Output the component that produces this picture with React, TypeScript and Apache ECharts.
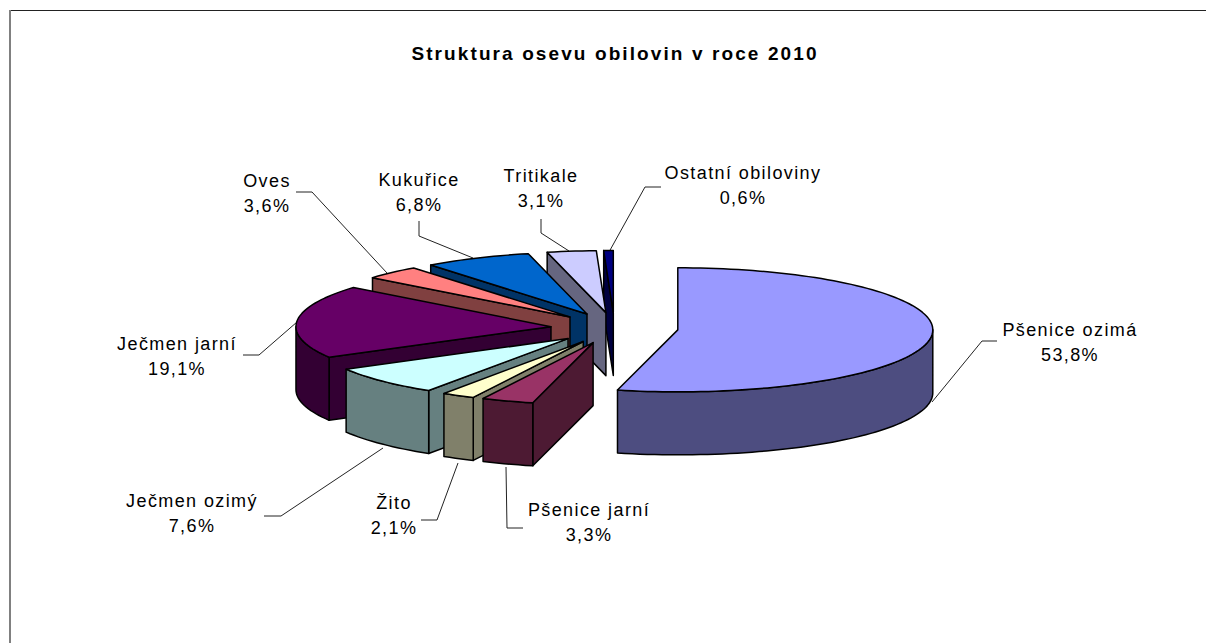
import React, { useEffect, useRef } from "react";
import * as echarts from "echarts";

const title = "Struktura osevu obilovin v roce 2010";
const categories = ["Pšenice ozimá", "Pšenice jarní", "Žito", "Ječmen ozimý", "Ječmen jarní", "Oves", "Kukuřice", "Tritikale", "Ostatní obiloviny"];
const shares = [53.8, 3.3, 2.1, 7.6, 19.1, 3.6, 6.8, 3.1, 0.6];
const topColors = ["#9999FF", "#993366", "#FFFFCC", "#CCFFFF", "#660066", "#FF8080", "#0066CC", "#CCCCFF", "#000080"];
const wallColors = ["#4D4D80", "#4D1A33", "#80806A", "#668080", "#330033", "#804040", "#003366", "#666680", "#000040"];

const labelCenters = [[1070, 342], [589, 522], [394, 515], [192, 513], [177, 356], [267, 193], [419, 192], [541, 188], [743, 185]];
const leaders = [
  [[997, 341], [982, 341], [932, 402]],
  [[523, 528], [507, 528], [506, 467]],
  [[421, 520], [437, 520], [458, 463]],
  [[264, 516], [281, 516], [383, 448]],
  [[243, 355], [259, 355], [297, 322]],
  [[296, 192], [312, 192], [387, 273]],
  [[419, 221], [419, 236], [473, 258]],
  [[541, 219], [541, 233], [569, 251]],
  [[661, 187], [645, 187], [609, 252]],
];

const CX = 614.5, CY = 328, RX = 255, RY = 62, DEPTH = 63, EXPLODE = 0.25;
const total = shares.reduce((a, b) => a + b, 0);
const FONT = "Liberation Sans, Arial, sans-serif";

const fmt = (v: number) => v.toFixed(1).replace(".", ",") + "%";

function renderItem(_params: any, api: any) {
  const a0 = (api.value(1) / total) * Math.PI * 2;
  const a1 = (api.value(2) / total) * Math.PI * 2;
  const idx = api.value(3);
  const mid = (a0 + a1) / 2;
  const cx = CX + EXPLODE * RX * Math.sin(mid);
  const cy = CY - EXPLODE * RY * Math.cos(mid);
  const pt = (a: number, drop = 0) => [cx + RX * Math.sin(a), cy - RY * Math.cos(a) + drop];
  const arc = (s: number, e: number, drop = 0) => {
    const n = Math.max(2, Math.ceil((e - s) / 0.03));
    const out: number[][] = [];
    for (let i = 0; i <= n; i++) out.push(pt(s + ((e - s) * i) / n, drop));
    return out;
  };
  const edge = { stroke: "#000", lineWidth: 1.5, lineJoin: "round" };
  const poly = (points: number[][], fill: string) => ({ type: "polygon", shape: { points }, style: { fill, ...edge }, silent: true });
  const children: any[] = [];
  const wall = wallColors[idx];
  // Only radial walls that face the viewer are drawn.
  if (a0 > Math.PI) children.push(poly([[cx, cy], pt(a0), pt(a0, DEPTH), [cx, cy + DEPTH]], wall));
  if (a1 < Math.PI) children.push(poly([[cx, cy], pt(a1), pt(a1, DEPTH), [cx, cy + DEPTH]], wall));
  const fs = Math.max(a0, Math.PI / 2), fe = Math.min(a1, (Math.PI * 3) / 2);
  if (fe > fs) children.push(poly([...arc(fs, fe), ...arc(fs, fe, DEPTH).reverse()], wall));
  children.push(poly([[cx, cy], ...arc(a0, a1)], topColors[idx]));
  return { type: "group", children };
}

let cum = 0;
const sliceRows = shares.map((v, i) => {
  const row = [v, cum, cum + v, i];
  cum += v;
  return row;
}).reverse();

export default function App() {
  const ref = useRef<HTMLDivElement>(null);
  useEffect(() => {
    document.body.style.margin = "0";
    const chart = echarts.init(ref.current!, null, { renderer: "svg" });
    const graphics: any[] = [
      { type: "line", shape: { x1: 10.5, y1: 10.5, x2: 1206, y2: 10.5 }, style: { stroke: "#222", lineWidth: 1 }, silent: true },
      { type: "line", shape: { x1: 10, y1: 10, x2: 10, y2: 643 }, style: { stroke: "#808080", lineWidth: 2 }, silent: true },
      {
        type: "text", x: 615, y: 53,
        style: { text: title, fill: "#000", font: `bold 19px ${FONT}`, textAlign: "center", textVerticalAlign: "middle" }, silent: true,
      },
    ];
    categories.forEach((c, i) => {
      graphics.push({ type: "polyline", shape: { points: leaders[i] }, style: { stroke: "#222", lineWidth: 1, fill: "none" }, silent: true });
      graphics.push({
        type: "text", x: labelCenters[i][0], y: labelCenters[i][1],
        style: { text: `${c}\n${fmt(shares[i])}`, fill: "#000", font: `18px ${FONT}`, lineHeight: 25, textAlign: "center", textVerticalAlign: "middle" }, silent: true,
      });
    });
    chart.setOption({
      animation: false,
      backgroundColor: "#fff",
      graphic: graphics,
      series: [{ type: "custom", coordinateSystem: "none", silent: true, renderItem, data: sliceRows, z: 5 }],
    });
    return () => chart.dispose();
  }, []);
  return (
    <>
      <style>{`#chartBox text{letter-spacing:1.4px}#chartBox text[style*="bold"]{letter-spacing:2.1px}`}</style>
      <div id="chartBox" ref={ref} style={{ width: 1206, height: 643 }} />
    </>
  );
}
